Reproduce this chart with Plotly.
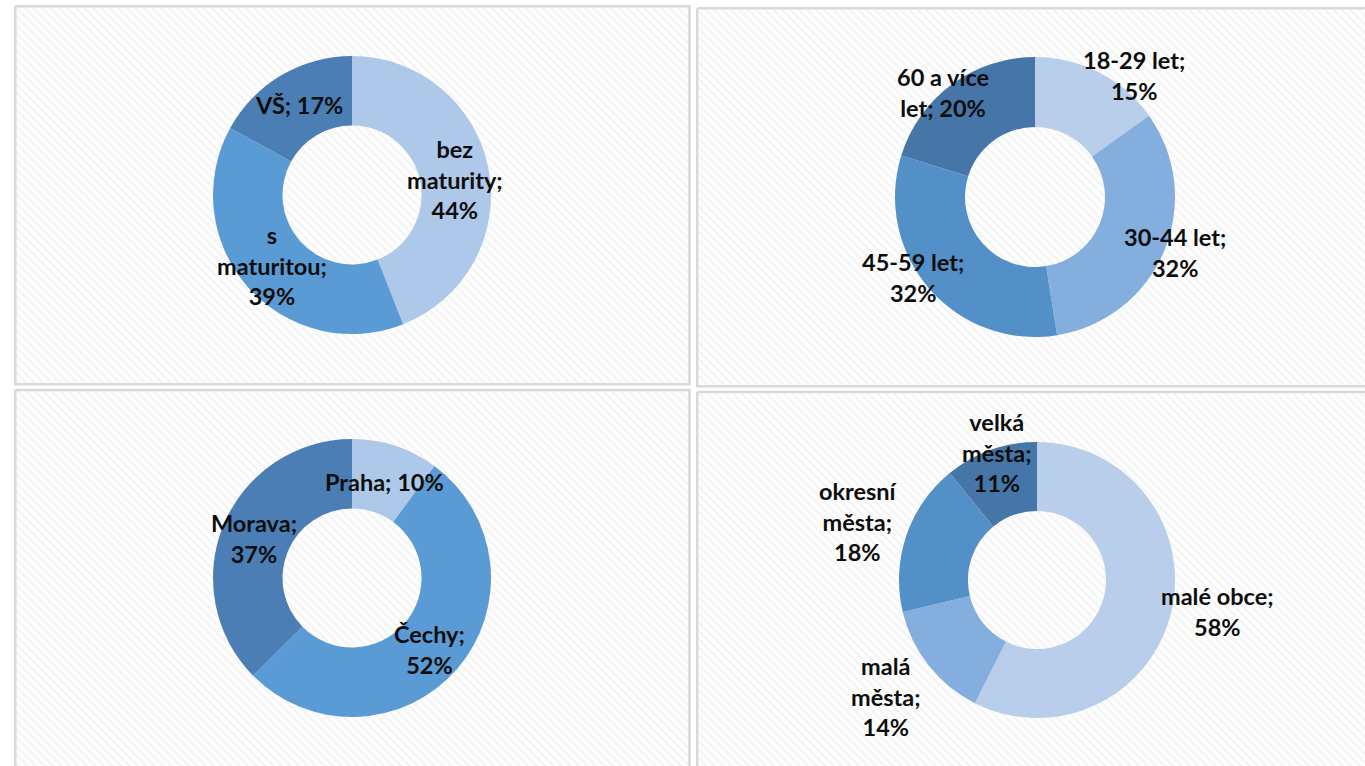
import math
import plotly.graph_objects as go

W, H = 1365, 766

# ---- data ----
edu_labels = ["bez maturity", "s maturitou", "VŠ"]
edu_values = [44, 39, 17]

age_labels = ["18-29 let", "30-44 let", "45-59 let", "60 a více let"]
age_values = [15, 32, 32, 20]

region_labels = ["Praha", "Čechy", "Morava"]
region_values = [10, 52, 37]

size_labels = ["malé obce", "malá města", "okresní města", "velká města"]
size_values = [58, 14, 18, 11]

# ---- styles ----
edu_colors = ["#aec8e9", "#5b9bd5", "#4a7eb4"]
age_colors = ["#b8ceea", "#84aede", "#5490c8", "#4676a8"]
region_colors = ["#aec8e9", "#5b9bd5", "#4a7eb4"]
size_colors = ["#b8ceea", "#84aede", "#5490c8", "#4676a8"]

FONT = dict(family="Lato, 'Open Sans', sans-serif", size=23.5, color="#0d0d0d", weight=700)

charts = [
    dict(labels=edu_labels, values=edu_values, colors=edu_colors,
         cx=352, cy=195, R=139,
         rf=[0.75, 0.77, 0.75], dth=[2, 0, 0],
         breaks=[[1, 2], [1, 2], []]),
    dict(labels=age_labels, values=age_values, colors=age_colors,
         cx=1035, cy=197, R=140,
         rf=[1.12, 1.08, 1.04, 0.99], dth=[11.7, -1, 7.5, -5],
         breaks=[[2], [2], [2], [3]]),
    dict(labels=region_labels, values=region_values, colors=region_colors,
         cx=352, cy=578, R=139,
         rf=[0.73, 0.76, 0.76], dth=[0.6, 1.8, -0.5],
         breaks=[[], [1], [1]]),
    dict(labels=size_labels, values=size_values, colors=size_colors,
         cx=1037, cy=580, R=138,
         rf=[1.33, 1.38, 1.36, 0.97], dth=[-3.4, 0.6, -0.7, 2.2],
         breaks=[[2], [1, 2], [1, 2], [1, 2]]),
]

# panels: (x0, y0, x1, y1) in pixels
panels = [
    (15.3, 6.3, 689.5, 384.3),
    (697.2, 8.2, 1375, 386.3),
    (15.3, 390.0, 689.5, 775),
    (697.2, 392.0, 1375, 775),
]

fig = go.Figure()

for (x0, y0, x1, y1) in panels:
    fig.add_trace(go.Scatter(
        x=[x0, x1, x1, x0, x0], y=[y0, y0, y1, y1, y0],
        mode="lines", fill="toself",
        line=dict(color="#d9d9d9", width=2.5),
        fillcolor="white",
        fillpattern=dict(shape="\\", fgcolor="#ececec", bgcolor="#ffffff",
                         size=6, solidity=0.45),
        hoverinfo="skip", showlegend=False,
    ))


def wrap(name, pct, breaks):
    tokens = (name + "; " + f"{pct}%").split(" ")
    out = ""
    for i, t in enumerate(tokens):
        if i > 0:
            out += "<br>" if i in breaks else " "
        out += t
    return out


annotations = []
for c in charts:
    cx, cy, R = c["cx"], c["cy"], c["R"]
    fig.add_trace(go.Pie(
        labels=c["labels"], values=c["values"],
        marker=dict(colors=c["colors"], line=dict(width=0)),
        hole=0.5, sort=False, direction="clockwise", rotation=0,
        textinfo="none", hoverinfo="label+percent", showlegend=False,
        domain=dict(x=[(cx - R) / W, (cx + R) / W],
                    y=[1 - (cy + R) / H, 1 - (cy - R) / H]),
    ))
    total = sum(c["values"])
    cum = 0
    for i, (lab, v) in enumerate(zip(c["labels"], c["values"])):
        mid = 360 * (cum + v / 2) / total + c["dth"][i]
        cum += v
        r = c["rf"][i] * R
        px = cx + r * math.sin(math.radians(mid))
        py = cy - r * math.cos(math.radians(mid))
        annotations.append(dict(
            x=px / W, y=1 - py / H, xref="paper", yref="paper",
            text=wrap(lab, v, c["breaks"][i]), showarrow=False,
            xanchor="center", yanchor="middle", align="center",
            font=FONT,
        ))

fig.update_layout(
    width=W, height=H,
    margin=dict(l=0, r=0, t=0, b=0),
    paper_bgcolor="white", plot_bgcolor="rgba(0,0,0,0)",
    xaxis=dict(range=[0, W], visible=False, fixedrange=True),
    yaxis=dict(range=[H, 0], visible=False, fixedrange=True),
    annotations=annotations,
)

fig.write_html("out.html")
